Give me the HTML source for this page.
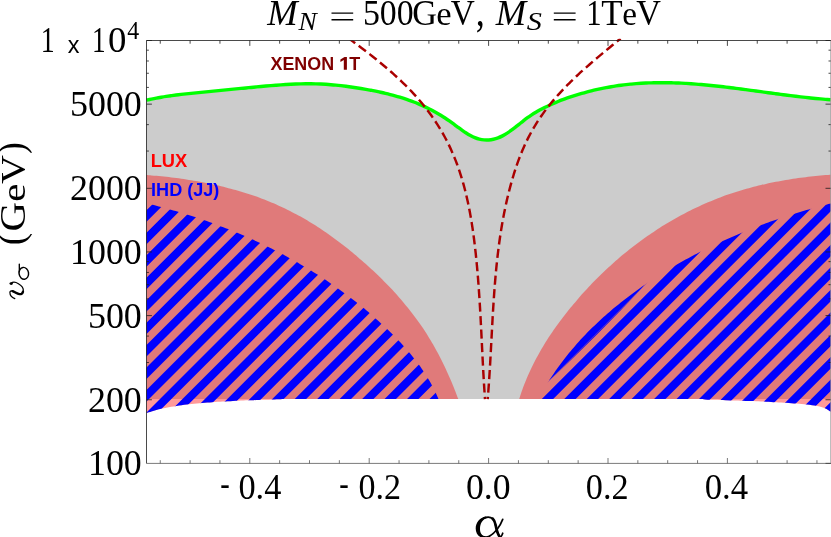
<!DOCTYPE html>
<html lang="en"><head><meta charset="utf-8"><title>M_N = 500GeV, M_S = 1TeV</title>
<style>
html,body{margin:0;padding:0;background:#fff;}
body{width:831px;height:537px;overflow:hidden;}
svg{display:block;will-change:transform;}
.se{font-family:"Liberation Serif",serif;fill:#000;}
.sa{font-family:"Liberation Sans",sans-serif;font-weight:bold;}
</style></head><body>
<svg width="831" height="537" viewBox="0 0 831 537">
<rect width="831" height="537" fill="#fff"/>
<defs>
<clipPath id="hc"><path d="M146.50,203.30 C147.32,203.50 149.77,204.09 151.40,204.50 C153.03,204.91 154.66,205.32 156.29,205.74 C157.91,206.16 159.54,206.58 161.16,207.01 C162.79,207.45 164.41,207.88 166.03,208.33 C167.65,208.77 169.26,209.23 170.88,209.68 C172.49,210.14 174.11,210.61 175.72,211.08 C177.33,211.55 178.94,212.03 180.54,212.51 C182.15,213.00 183.76,213.49 185.36,213.99 C186.96,214.48 188.56,214.99 190.16,215.50 C191.76,216.01 193.35,216.53 194.94,217.05 C196.54,217.58 198.13,218.11 199.71,218.65 C201.30,219.18 202.89,219.73 204.47,220.28 C206.05,220.83 207.63,221.39 209.21,221.95 C210.79,222.52 212.36,223.09 213.94,223.67 C215.51,224.25 217.08,224.83 218.65,225.42 C220.21,226.01 221.78,226.61 223.34,227.22 C224.90,227.82 226.46,228.44 228.02,229.06 C229.57,229.67 231.13,230.30 232.68,230.93 C234.23,231.57 235.77,232.21 237.32,232.85 C238.86,233.50 240.40,234.15 241.94,234.81 C243.48,235.47 245.01,236.14 246.55,236.82 C248.08,237.49 249.61,238.17 251.13,238.86 C252.66,239.55 254.18,240.24 255.70,240.95 C257.22,241.65 258.74,242.36 260.25,243.07 C261.76,243.79 263.27,244.51 264.78,245.24 C266.29,245.97 267.79,246.71 269.29,247.46 C270.79,248.20 272.28,248.95 273.78,249.71 C275.27,250.47 276.76,251.23 278.24,252.01 C279.73,252.78 281.21,253.56 282.69,254.35 C284.17,255.13 285.64,255.93 287.11,256.73 C288.58,257.53 290.05,258.34 291.52,259.15 C292.98,259.97 294.44,260.79 295.90,261.62 C297.35,262.45 298.80,263.29 300.25,264.14 C301.70,264.98 303.15,265.83 304.59,266.69 C306.03,267.55 307.46,268.42 308.90,269.29 C310.33,270.16 311.76,271.04 313.18,271.93 C314.61,272.82 316.03,273.72 317.44,274.62 C318.86,275.52 320.27,276.43 321.68,277.35 C323.09,278.27 324.49,279.19 325.89,280.12 C327.29,281.06 328.68,282.00 330.07,282.94 C331.46,283.89 332.84,284.84 334.22,285.81 C335.60,286.77 336.98,287.74 338.34,288.71 C339.71,289.69 341.08,290.67 342.43,291.66 C343.79,292.66 345.15,293.65 346.49,294.66 C347.84,295.67 349.18,296.68 350.52,297.70 C351.85,298.72 353.18,299.75 354.51,300.79 C355.83,301.82 357.15,302.87 358.46,303.92 C359.77,304.97 361.08,306.02 362.38,307.09 C363.68,308.16 364.97,309.23 366.26,310.31 C367.54,311.39 368.82,312.48 370.10,313.57 C371.37,314.67 372.64,315.77 373.90,316.88 C375.16,317.99 376.41,319.11 377.66,320.24 C378.90,321.36 380.14,322.50 381.37,323.64 C382.61,324.78 383.83,325.93 385.05,327.08 C386.26,328.24 387.47,329.40 388.68,330.57 C389.88,331.75 391.07,332.92 392.26,334.11 C393.44,335.30 394.62,336.49 395.79,337.69 C396.96,338.89 398.12,340.10 399.27,341.32 C400.43,342.54 401.57,343.77 402.70,345.01 C403.83,346.24 404.94,347.49 406.05,348.74 C407.16,350.00 408.25,351.26 409.33,352.54 C410.41,353.82 411.48,355.10 412.53,356.40 C413.58,357.69 414.62,359.00 415.64,360.32 C416.66,361.64 417.66,362.97 418.65,364.31 C419.64,365.66 420.61,367.01 421.56,368.38 C422.52,369.74 423.45,371.12 424.37,372.51 C425.28,373.91 426.18,375.31 427.05,376.73 C427.93,378.15 428.78,379.58 429.62,381.03 C430.45,382.47 431.26,383.94 432.05,385.41 C432.84,386.89 433.61,388.38 434.35,389.88 C435.09,391.39 435.81,392.91 436.50,394.44 C437.19,395.98 438.17,398.32 438.50,399.10 L284.40,399.10 L284.40,399.10 C283.55,399.13 280.99,399.23 279.28,399.29 C277.57,399.35 275.86,399.41 274.15,399.46 C272.44,399.52 270.73,399.58 269.01,399.63 C267.30,399.69 265.59,399.74 263.87,399.80 C262.15,399.85 260.44,399.91 258.72,399.97 C257.00,400.02 255.29,400.08 253.57,400.14 C251.85,400.20 250.13,400.26 248.41,400.32 C246.69,400.38 244.97,400.45 243.25,400.51 C241.53,400.58 239.81,400.65 238.09,400.72 C236.37,400.80 234.65,400.87 232.92,400.95 C231.20,401.04 229.48,401.12 227.76,401.21 C226.04,401.30 224.32,401.39 222.60,401.49 C220.88,401.59 219.16,401.70 217.45,401.81 C215.73,401.92 214.01,402.04 212.29,402.16 C210.58,402.29 208.86,402.42 207.15,402.56 C205.43,402.70 203.72,402.84 202.00,402.99 C200.29,403.15 198.58,403.31 196.87,403.48 C195.16,403.65 193.45,403.83 191.74,404.02 C190.03,404.21 188.33,404.40 186.63,404.61 C184.92,404.82 183.22,405.04 181.52,405.27 C179.82,405.50 178.12,405.75 176.43,406.01 C174.74,406.27 173.05,406.55 171.36,406.84 C169.68,407.14 167.99,407.45 166.32,407.79 C164.64,408.12 162.97,408.48 161.31,408.86 C159.64,409.24 157.98,409.64 156.33,410.07 C154.68,410.51 153.03,410.96 151.39,411.45 C149.75,411.94 147.32,412.74 146.50,413.00 Z"/><path d="M538.40,399.10 C538.80,398.35 539.99,396.10 540.81,394.62 C541.62,393.14 542.45,391.67 543.29,390.20 C544.13,388.74 544.99,387.29 545.86,385.85 C546.72,384.41 547.60,382.97 548.50,381.55 C549.39,380.13 550.29,378.72 551.21,377.31 C552.13,375.91 553.06,374.52 554.00,373.13 C554.94,371.75 555.89,370.38 556.86,369.01 C557.82,367.65 558.80,366.29 559.79,364.95 C560.78,363.60 561.78,362.27 562.79,360.94 C563.80,359.61 564.82,358.30 565.86,356.99 C566.89,355.68 567.93,354.38 568.99,353.09 C570.04,351.81 571.11,350.53 572.18,349.26 C573.26,347.98 574.34,346.72 575.44,345.47 C576.53,344.22 577.64,342.98 578.76,341.74 C579.87,340.51 581.00,339.28 582.13,338.06 C583.27,336.85 584.41,335.64 585.57,334.44 C586.72,333.24 587.89,332.05 589.06,330.87 C590.23,329.69 591.41,328.52 592.60,327.35 C593.79,326.19 594.99,325.03 596.20,323.88 C597.41,322.74 598.63,321.60 599.85,320.47 C601.07,319.34 602.31,318.22 603.55,317.10 C604.79,315.99 606.04,314.88 607.29,313.79 C608.55,312.69 609.82,311.60 611.09,310.52 C612.36,309.44 613.64,308.37 614.92,307.30 C616.21,306.24 617.50,305.18 618.80,304.13 C620.11,303.09 621.41,302.05 622.73,301.01 C624.04,299.98 625.36,298.96 626.69,297.94 C628.02,296.92 629.35,295.91 630.69,294.91 C632.03,293.91 633.38,292.92 634.73,291.93 C636.08,290.94 637.44,289.97 638.80,289.00 C640.17,288.02 641.53,287.06 642.91,286.10 C644.28,285.15 645.66,284.20 647.05,283.26 C648.43,282.32 649.82,281.38 651.22,280.46 C652.61,279.53 654.02,278.61 655.42,277.70 C656.83,276.79 658.24,275.88 659.65,274.99 C661.07,274.09 662.49,273.20 663.91,272.32 C665.34,271.43 666.77,270.56 668.20,269.69 C669.64,268.82 671.07,267.96 672.52,267.11 C673.96,266.25 675.41,265.41 676.86,264.57 C678.31,263.73 679.77,262.90 681.23,262.07 C682.69,261.25 684.16,260.43 685.63,259.62 C687.09,258.81 688.57,258.00 690.05,257.20 C691.52,256.41 693.00,255.62 694.49,254.84 C695.97,254.05 697.46,253.28 698.96,252.51 C700.45,251.74 701.95,250.98 703.45,250.22 C704.95,249.47 706.45,248.72 707.96,247.98 C709.46,247.24 710.98,246.50 712.49,245.78 C714.00,245.05 715.52,244.33 717.04,243.61 C718.56,242.90 720.09,242.19 721.62,241.49 C723.14,240.79 724.67,240.10 726.21,239.42 C727.74,238.73 729.28,238.05 730.82,237.38 C732.36,236.70 733.90,236.04 735.44,235.38 C736.99,234.72 738.54,234.07 740.09,233.42 C741.64,232.77 743.19,232.14 744.75,231.50 C746.30,230.87 747.86,230.24 749.42,229.63 C750.98,229.01 752.54,228.39 754.11,227.79 C755.67,227.18 757.24,226.58 758.81,225.99 C760.38,225.39 761.95,224.81 763.53,224.23 C765.10,223.65 766.68,223.07 768.26,222.51 C769.83,221.94 771.41,221.38 773.00,220.83 C774.58,220.27 776.16,219.72 777.75,219.18 C779.33,218.64 780.92,218.11 782.51,217.58 C784.09,217.05 785.68,216.53 787.28,216.01 C788.87,215.50 790.46,214.99 792.05,214.48 C793.65,213.98 795.24,213.48 796.84,212.99 C798.44,212.50 800.03,212.02 801.63,211.54 C803.23,211.06 804.83,210.59 806.43,210.12 C808.03,209.66 809.63,209.20 811.24,208.75 C812.84,208.29 814.44,207.84 816.05,207.40 C817.65,206.96 819.26,206.53 820.86,206.10 C822.47,205.67 824.07,205.25 825.68,204.83 C827.29,204.41 829.70,203.81 830.50,203.60 L830.6,411.6 L830.60,411.60 C829.93,411.15 828.03,409.65 826.60,408.92 C825.17,408.18 823.60,407.68 822.02,407.19 C820.44,406.71 818.80,406.34 817.14,406.01 C815.48,405.67 813.77,405.43 812.07,405.19 C810.36,404.96 808.63,404.78 806.91,404.59 C805.19,404.41 803.47,404.24 801.76,404.08 C800.04,403.91 798.33,403.76 796.62,403.61 C794.91,403.47 793.20,403.33 791.50,403.20 C789.79,403.07 788.09,402.95 786.39,402.83 C784.68,402.71 782.99,402.60 781.29,402.50 C779.59,402.40 777.89,402.30 776.20,402.20 C774.50,402.11 772.81,402.02 771.12,401.94 C769.43,401.86 767.73,401.78 766.04,401.71 C764.35,401.63 762.67,401.56 760.98,401.49 C759.29,401.42 757.60,401.36 755.91,401.30 C754.22,401.23 752.54,401.17 750.85,401.11 C749.16,401.06 747.48,401.00 745.79,400.94 C744.10,400.89 742.41,400.83 740.72,400.78 C739.04,400.72 737.35,400.66 735.66,400.61 C733.97,400.55 732.28,400.50 730.59,400.44 C728.90,400.38 727.21,400.32 725.52,400.26 C723.82,400.20 722.13,400.14 720.43,400.07 C718.74,400.00 717.04,399.94 715.34,399.86 C713.64,399.79 711.94,399.72 710.24,399.64 C708.54,399.56 706.83,399.47 705.13,399.38 C703.42,399.29 700.85,399.15 700.00,399.10 Z"/></clipPath>
<clipPath id="fc"><path d="M146.50,40.50 H560 V38.7 H831.90 V463.40 H146.50 Z"/></clipPath>
</defs>
<path d="M146.50,100.20 C147.32,100.02 149.77,99.46 151.41,99.11 C153.05,98.77 154.69,98.44 156.34,98.13 C157.98,97.81 159.62,97.52 161.27,97.23 C162.91,96.95 164.56,96.68 166.21,96.43 C167.86,96.17 169.51,95.93 171.16,95.69 C172.81,95.46 174.46,95.24 176.12,95.02 C177.77,94.81 179.43,94.61 181.08,94.41 C182.74,94.21 184.40,94.03 186.06,93.85 C187.71,93.66 189.37,93.49 191.03,93.32 C192.69,93.15 194.35,92.98 196.01,92.82 C197.68,92.65 199.34,92.49 201.00,92.34 C202.66,92.18 204.33,92.02 205.99,91.86 C207.65,91.71 209.32,91.55 210.98,91.39 C212.65,91.23 214.31,91.08 215.98,90.91 C217.64,90.75 219.31,90.59 220.97,90.43 C222.64,90.26 224.30,90.10 225.97,89.93 C227.63,89.76 229.30,89.60 230.96,89.43 C232.63,89.26 234.30,89.10 235.96,88.93 C237.63,88.76 239.29,88.60 240.96,88.43 C242.62,88.27 244.29,88.10 245.95,87.94 C247.62,87.77 249.28,87.61 250.95,87.45 C252.61,87.29 254.27,87.13 255.94,86.97 C257.60,86.81 259.26,86.66 260.93,86.50 C262.59,86.35 264.25,86.20 265.91,86.05 C267.58,85.90 269.24,85.76 270.90,85.62 C272.56,85.48 274.22,85.35 275.88,85.22 C277.54,85.09 279.20,84.97 280.87,84.86 C282.53,84.74 284.19,84.63 285.85,84.53 C287.51,84.43 289.17,84.34 290.84,84.26 C292.50,84.18 294.16,84.11 295.82,84.05 C297.49,83.98 299.15,83.93 300.81,83.89 C302.48,83.85 304.14,83.82 305.81,83.81 C307.47,83.80 309.14,83.79 310.81,83.81 C312.48,83.82 314.14,83.84 315.81,83.88 C317.48,83.93 319.15,83.98 320.82,84.05 C322.50,84.13 324.17,84.22 325.84,84.32 C327.52,84.43 329.19,84.55 330.87,84.69 C332.54,84.82 334.22,84.97 335.89,85.14 C337.57,85.30 339.24,85.48 340.92,85.67 C342.59,85.86 344.26,86.07 345.93,86.28 C347.60,86.50 349.27,86.73 350.94,86.96 C352.61,87.20 354.27,87.45 355.93,87.70 C357.59,87.96 359.25,88.22 360.91,88.49 C362.56,88.77 364.21,89.05 365.86,89.34 C367.51,89.63 369.15,89.93 370.79,90.24 C372.43,90.55 374.07,90.87 375.70,91.20 C377.33,91.54 378.95,91.88 380.57,92.24 C382.19,92.59 383.81,92.96 385.42,93.35 C387.03,93.73 388.64,94.13 390.24,94.55 C391.84,94.96 393.44,95.39 395.03,95.83 C396.62,96.28 398.20,96.74 399.78,97.22 C401.36,97.70 402.93,98.19 404.50,98.71 C406.07,99.22 407.63,99.76 409.18,100.31 C410.74,100.86 412.28,101.43 413.82,102.03 C415.36,102.62 416.90,103.24 418.42,103.87 C419.95,104.51 421.47,105.17 422.98,105.85 C424.49,106.53 426.00,107.24 427.50,107.97 C428.99,108.70 430.48,109.45 431.96,110.23 C433.44,111.01 434.92,111.82 436.38,112.65 C437.85,113.48 439.31,114.34 440.75,115.22 C442.20,116.11 443.64,117.02 445.07,117.97 C446.50,118.91 447.92,119.88 449.34,120.88 C450.75,121.88 452.15,122.92 453.55,123.96 C454.95,124.99 456.34,126.06 457.74,127.09 C459.14,128.13 460.53,129.17 461.93,130.16 C463.33,131.14 464.74,132.12 466.16,133.02 C467.57,133.92 469.00,134.79 470.44,135.56 C471.89,136.33 473.34,137.04 474.82,137.63 C476.30,138.23 477.80,138.75 479.32,139.13 C480.85,139.50 482.41,139.77 483.97,139.91 C485.54,140.04 487.14,140.05 488.71,139.94 C490.29,139.83 491.89,139.60 493.45,139.26 C495.01,138.91 496.55,138.44 498.06,137.88 C499.58,137.31 501.05,136.62 502.51,135.87 C503.97,135.12 505.41,134.26 506.83,133.37 C508.24,132.47 509.64,131.49 511.03,130.48 C512.42,129.48 513.79,128.42 515.16,127.35 C516.54,126.29 517.90,125.18 519.26,124.10 C520.62,123.02 521.98,121.91 523.35,120.85 C524.72,119.79 526.09,118.73 527.47,117.74 C528.85,116.74 530.24,115.78 531.64,114.86 C533.05,113.94 534.46,113.08 535.89,112.24 C537.31,111.40 538.75,110.60 540.20,109.82 C541.65,109.04 543.11,108.30 544.58,107.57 C546.05,106.85 547.53,106.14 549.02,105.45 C550.51,104.76 552.01,104.09 553.52,103.43 C555.04,102.78 556.56,102.14 558.09,101.51 C559.62,100.89 561.16,100.28 562.71,99.69 C564.26,99.10 565.82,98.53 567.38,97.97 C568.95,97.41 570.52,96.87 572.10,96.34 C573.68,95.81 575.27,95.30 576.87,94.81 C578.46,94.31 580.06,93.83 581.67,93.37 C583.28,92.91 584.90,92.46 586.52,92.03 C588.14,91.60 589.76,91.18 591.39,90.78 C593.02,90.38 594.66,89.99 596.30,89.62 C597.94,89.25 599.58,88.90 601.23,88.56 C602.88,88.22 604.53,87.90 606.18,87.59 C607.84,87.28 609.50,86.99 611.16,86.71 C612.82,86.43 614.48,86.17 616.14,85.92 C617.81,85.67 619.47,85.44 621.14,85.22 C622.81,85.00 624.48,84.79 626.15,84.60 C627.81,84.42 629.48,84.24 631.15,84.08 C632.82,83.92 634.49,83.78 636.16,83.64 C637.83,83.51 639.50,83.40 641.17,83.29 C642.83,83.19 644.50,83.10 646.17,83.02 C647.84,82.95 649.50,82.89 651.17,82.83 C652.84,82.78 654.50,82.75 656.17,82.72 C657.83,82.69 659.50,82.68 661.16,82.68 C662.83,82.67 664.49,82.68 666.16,82.70 C667.82,82.72 669.49,82.75 671.15,82.79 C672.81,82.83 674.48,82.89 676.14,82.95 C677.80,83.01 679.47,83.08 681.13,83.16 C682.79,83.24 684.45,83.33 686.11,83.42 C687.78,83.52 689.44,83.63 691.10,83.74 C692.76,83.85 694.42,83.98 696.08,84.11 C697.75,84.23 699.41,84.37 701.07,84.52 C702.73,84.66 704.39,84.81 706.05,84.97 C707.71,85.12 709.37,85.29 711.03,85.46 C712.69,85.62 714.35,85.80 716.01,85.98 C717.67,86.16 719.33,86.34 720.99,86.53 C722.65,86.72 724.30,86.92 725.96,87.12 C727.62,87.31 729.28,87.52 730.94,87.72 C732.60,87.93 734.26,88.14 735.92,88.35 C737.58,88.56 739.23,88.78 740.89,89.00 C742.55,89.21 744.21,89.43 745.87,89.65 C747.53,89.88 749.19,90.10 750.84,90.32 C752.50,90.55 754.16,90.77 755.82,91.00 C757.48,91.23 759.14,91.45 760.79,91.68 C762.45,91.91 764.11,92.14 765.77,92.36 C767.43,92.59 769.09,92.81 770.75,93.04 C772.40,93.26 774.06,93.49 775.72,93.71 C777.38,93.93 779.04,94.15 780.70,94.37 C782.36,94.59 784.01,94.81 785.67,95.02 C787.33,95.23 788.99,95.45 790.65,95.65 C792.31,95.86 793.97,96.06 795.63,96.26 C797.29,96.46 798.95,96.66 800.61,96.85 C802.27,97.04 803.93,97.23 805.59,97.41 C807.25,97.60 808.91,97.77 810.57,97.95 C812.23,98.12 813.89,98.28 815.55,98.44 C817.21,98.60 818.87,98.76 820.53,98.90 C822.19,99.05 823.85,99.19 825.51,99.32 C827.18,99.46 829.67,99.64 830.50,99.70 L830.5,399.10 L146.5,399.10 Z" fill="#cccccc"/>
<path d="M146.50,175.00 C147.33,175.07 149.81,175.25 151.47,175.39 C153.12,175.53 154.78,175.67 156.44,175.83 C158.10,175.98 159.76,176.14 161.42,176.31 C163.08,176.48 164.74,176.65 166.40,176.84 C168.07,177.02 169.73,177.22 171.39,177.42 C173.06,177.62 174.72,177.83 176.38,178.05 C178.05,178.27 179.71,178.49 181.37,178.73 C183.04,178.97 184.70,179.21 186.36,179.47 C188.02,179.72 189.68,179.98 191.34,180.26 C193.00,180.53 194.66,180.81 196.32,181.10 C197.98,181.39 199.64,181.70 201.29,182.01 C202.94,182.32 204.60,182.64 206.25,182.97 C207.90,183.30 209.55,183.64 211.20,183.99 C212.85,184.34 214.49,184.70 216.13,185.07 C217.78,185.45 219.42,185.83 221.05,186.22 C222.69,186.61 224.32,187.02 225.96,187.43 C227.59,187.85 229.22,188.27 230.84,188.71 C232.46,189.15 234.09,189.59 235.70,190.05 C237.32,190.51 238.93,190.98 240.54,191.46 C242.15,191.95 243.76,192.44 245.36,192.94 C246.96,193.45 248.56,193.97 250.15,194.50 C251.74,195.03 253.33,195.57 254.91,196.12 C256.50,196.68 258.07,197.24 259.65,197.82 C261.22,198.40 262.79,198.99 264.35,199.59 C265.91,200.20 267.47,200.81 269.02,201.44 C270.57,202.07 272.11,202.72 273.65,203.37 C275.19,204.03 276.72,204.70 278.24,205.38 C279.77,206.06 281.29,206.76 282.80,207.46 C284.31,208.17 285.82,208.90 287.32,209.63 C288.81,210.37 290.30,211.12 291.79,211.88 C293.27,212.65 294.75,213.42 296.22,214.21 C297.69,215.00 299.16,215.81 300.61,216.62 C302.07,217.44 303.52,218.26 304.96,219.10 C306.41,219.94 307.85,220.80 309.28,221.66 C310.71,222.52 312.13,223.40 313.55,224.28 C314.96,225.17 316.37,226.07 317.78,226.98 C319.18,227.89 320.58,228.81 321.97,229.74 C323.36,230.67 324.74,231.61 326.12,232.56 C327.50,233.51 328.87,234.47 330.24,235.45 C331.60,236.42 332.96,237.40 334.31,238.39 C335.67,239.38 337.01,240.38 338.35,241.39 C339.69,242.40 341.03,243.42 342.35,244.45 C343.68,245.48 345.00,246.51 346.32,247.56 C347.63,248.60 348.94,249.65 350.24,250.72 C351.55,251.78 352.84,252.85 354.13,253.92 C355.42,255.00 356.71,256.08 357.99,257.18 C359.27,258.27 360.54,259.37 361.81,260.47 C363.07,261.58 364.33,262.69 365.59,263.81 C366.84,264.93 368.09,266.06 369.33,267.19 C370.58,268.33 371.81,269.47 373.04,270.61 C374.27,271.76 375.49,272.92 376.71,274.08 C377.92,275.24 379.13,276.41 380.33,277.58 C381.53,278.76 382.72,279.94 383.90,281.14 C385.08,282.33 386.26,283.52 387.43,284.73 C388.59,285.94 389.75,287.15 390.90,288.37 C392.05,289.59 393.19,290.82 394.33,292.06 C395.46,293.29 396.58,294.54 397.69,295.79 C398.81,297.04 399.91,298.30 401.00,299.56 C402.10,300.83 403.18,302.11 404.25,303.39 C405.33,304.67 406.39,305.96 407.44,307.26 C408.49,308.56 409.53,309.87 410.56,311.18 C411.59,312.50 412.61,313.82 413.62,315.15 C414.63,316.48 415.62,317.82 416.61,319.17 C417.59,320.52 418.57,321.88 419.53,323.24 C420.49,324.61 421.43,325.98 422.37,327.36 C423.30,328.74 424.23,330.13 425.14,331.53 C426.05,332.93 426.94,334.34 427.83,335.76 C428.71,337.17 429.58,338.60 430.44,340.03 C431.30,341.46 432.14,342.90 432.98,344.35 C433.81,345.80 434.63,347.25 435.44,348.71 C436.25,350.18 437.05,351.65 437.84,353.12 C438.63,354.60 439.40,356.08 440.16,357.57 C440.93,359.06 441.68,360.56 442.42,362.06 C443.16,363.56 443.90,365.07 444.62,366.59 C445.34,368.10 446.05,369.62 446.75,371.15 C447.45,372.67 448.13,374.20 448.81,375.74 C449.49,377.27 450.16,378.82 450.82,380.36 C451.48,381.91 452.13,383.46 452.77,385.01 C453.41,386.56 454.05,388.12 454.67,389.68 C455.29,391.25 455.90,392.81 456.51,394.38 C457.12,395.95 458.00,398.31 458.30,399.10 L284.40,399.10 L284.40,399.10 C283.55,399.13 280.99,399.23 279.28,399.29 C277.57,399.35 275.86,399.41 274.15,399.46 C272.44,399.52 270.73,399.58 269.01,399.63 C267.30,399.69 265.59,399.74 263.87,399.80 C262.15,399.85 260.44,399.91 258.72,399.97 C257.00,400.02 255.29,400.08 253.57,400.14 C251.85,400.20 250.13,400.26 248.41,400.32 C246.69,400.38 244.97,400.45 243.25,400.51 C241.53,400.58 239.81,400.65 238.09,400.72 C236.37,400.80 234.65,400.87 232.92,400.95 C231.20,401.04 229.48,401.12 227.76,401.21 C226.04,401.30 224.32,401.39 222.60,401.49 C220.88,401.59 219.16,401.70 217.45,401.81 C215.73,401.92 214.01,402.04 212.29,402.16 C210.58,402.29 208.86,402.42 207.15,402.56 C205.43,402.70 203.72,402.84 202.00,402.99 C200.29,403.15 198.58,403.31 196.87,403.48 C195.16,403.65 193.45,403.83 191.74,404.02 C190.03,404.21 188.33,404.40 186.63,404.61 C184.92,404.82 183.22,405.04 181.52,405.27 C179.82,405.50 178.12,405.75 176.43,406.01 C174.74,406.27 173.05,406.55 171.36,406.84 C169.68,407.14 167.99,407.45 166.32,407.79 C164.64,408.12 162.97,408.48 161.31,408.86 C159.64,409.24 157.98,409.64 156.33,410.07 C154.68,410.51 153.03,410.96 151.39,411.45 C149.75,411.94 147.32,412.74 146.50,413.00 Z" fill="#ff0000" fill-opacity="0.4"/>
<path d="M519.20,399.10 C519.46,398.30 520.21,395.88 520.74,394.28 C521.27,392.69 521.82,391.10 522.39,389.52 C522.95,387.94 523.54,386.37 524.14,384.81 C524.74,383.24 525.36,381.69 526.00,380.14 C526.63,378.60 527.28,377.06 527.95,375.53 C528.62,374.00 529.31,372.48 530.01,370.96 C530.71,369.45 531.42,367.94 532.15,366.44 C532.89,364.95 533.63,363.45 534.39,361.97 C535.15,360.49 535.93,359.02 536.72,357.55 C537.51,356.08 538.31,354.62 539.13,353.17 C539.95,351.72 540.78,350.27 541.63,348.84 C542.47,347.40 543.33,345.97 544.20,344.55 C545.07,343.13 545.95,341.71 546.85,340.30 C547.75,338.90 548.65,337.50 549.57,336.10 C550.49,334.71 551.42,333.32 552.37,331.95 C553.31,330.57 554.26,329.20 555.23,327.83 C556.19,326.47 557.17,325.11 558.15,323.76 C559.14,322.40 560.13,321.06 561.14,319.72 C562.15,318.39 563.16,317.05 564.19,315.73 C565.21,314.41 566.24,313.09 567.29,311.78 C568.33,310.47 569.38,309.16 570.44,307.86 C571.50,306.56 572.57,305.27 573.64,303.99 C574.72,302.70 575.80,301.42 576.90,300.15 C577.99,298.88 579.09,297.61 580.20,296.35 C581.30,295.10 582.42,293.84 583.55,292.60 C584.67,291.35 585.80,290.12 586.94,288.89 C588.08,287.66 589.23,286.43 590.39,285.22 C591.54,284.00 592.70,282.79 593.88,281.59 C595.05,280.39 596.23,279.20 597.41,278.01 C598.60,276.83 599.79,275.65 600.99,274.48 C602.20,273.31 603.40,272.15 604.62,270.99 C605.84,269.84 607.06,268.69 608.29,267.56 C609.52,266.42 610.76,265.29 612.01,264.17 C613.26,263.05 614.51,261.93 615.77,260.83 C617.03,259.73 618.30,258.63 619.57,257.54 C620.85,256.46 622.13,255.38 623.42,254.31 C624.71,253.24 626.01,252.18 627.31,251.13 C628.61,250.08 629.92,249.04 631.24,248.00 C632.56,246.97 633.88,245.95 635.21,244.93 C636.54,243.92 637.88,242.91 639.23,241.92 C640.57,240.92 641.92,239.94 643.28,238.96 C644.64,237.99 646.00,237.02 647.38,236.06 C648.75,235.11 650.13,234.16 651.51,233.22 C652.89,232.29 654.29,231.36 655.68,230.45 C657.08,229.53 658.48,228.62 659.89,227.73 C661.30,226.83 662.72,225.95 664.14,225.07 C665.57,224.20 666.99,223.33 668.43,222.48 C669.86,221.63 671.31,220.78 672.75,219.95 C674.20,219.12 675.65,218.30 677.11,217.49 C678.57,216.67 680.03,215.87 681.51,215.09 C682.98,214.30 684.45,213.52 685.93,212.75 C687.42,211.99 688.90,211.23 690.40,210.49 C691.89,209.74 693.39,209.01 694.89,208.29 C696.40,207.57 697.91,206.86 699.42,206.16 C700.94,205.46 702.46,204.77 703.99,204.10 C705.51,203.42 707.04,202.76 708.58,202.11 C710.12,201.45 711.66,200.81 713.20,200.19 C714.75,199.56 716.30,198.94 717.86,198.34 C719.42,197.74 720.98,197.15 722.55,196.57 C724.11,195.99 725.68,195.42 727.26,194.87 C728.84,194.31 730.42,193.77 732.00,193.24 C733.59,192.71 735.18,192.19 736.78,191.69 C738.37,191.19 739.97,190.69 741.58,190.21 C743.18,189.74 744.79,189.27 746.40,188.81 C748.01,188.36 749.63,187.92 751.25,187.49 C752.87,187.05 754.49,186.64 756.12,186.23 C757.74,185.82 759.38,185.42 761.01,185.04 C762.64,184.65 764.28,184.28 765.92,183.92 C767.55,183.55 769.20,183.20 770.84,182.86 C772.48,182.52 774.13,182.19 775.78,181.87 C777.43,181.55 779.08,181.24 780.73,180.94 C782.38,180.64 784.03,180.35 785.69,180.07 C787.34,179.79 789.00,179.52 790.66,179.26 C792.32,179.00 793.98,178.75 795.63,178.51 C797.29,178.27 798.95,178.04 800.62,177.81 C802.28,177.59 803.94,177.37 805.60,177.17 C807.26,176.96 808.92,176.77 810.59,176.58 C812.25,176.39 813.91,176.21 815.57,176.04 C817.23,175.86 818.89,175.70 820.55,175.54 C822.21,175.39 823.87,175.24 825.53,175.10 C827.19,174.96 829.67,174.77 830.50,174.70 L830.6,411.6 L830.60,411.60 C829.93,411.15 828.03,409.65 826.60,408.92 C825.17,408.18 823.60,407.68 822.02,407.19 C820.44,406.71 818.80,406.34 817.14,406.01 C815.48,405.67 813.77,405.43 812.07,405.19 C810.36,404.96 808.63,404.78 806.91,404.59 C805.19,404.41 803.47,404.24 801.76,404.08 C800.04,403.91 798.33,403.76 796.62,403.61 C794.91,403.47 793.20,403.33 791.50,403.20 C789.79,403.07 788.09,402.95 786.39,402.83 C784.68,402.71 782.99,402.60 781.29,402.50 C779.59,402.40 777.89,402.30 776.20,402.20 C774.50,402.11 772.81,402.02 771.12,401.94 C769.43,401.86 767.73,401.78 766.04,401.71 C764.35,401.63 762.67,401.56 760.98,401.49 C759.29,401.42 757.60,401.36 755.91,401.30 C754.22,401.23 752.54,401.17 750.85,401.11 C749.16,401.06 747.48,401.00 745.79,400.94 C744.10,400.89 742.41,400.83 740.72,400.78 C739.04,400.72 737.35,400.66 735.66,400.61 C733.97,400.55 732.28,400.50 730.59,400.44 C728.90,400.38 727.21,400.32 725.52,400.26 C723.82,400.20 722.13,400.14 720.43,400.07 C718.74,400.00 717.04,399.94 715.34,399.86 C713.64,399.79 711.94,399.72 710.24,399.64 C708.54,399.56 706.83,399.47 705.13,399.38 C703.42,399.29 700.85,399.15 700.00,399.10 L700,399.10 Z" fill="#ff0000" fill-opacity="0.4"/>
<path d="M161.85,195.00 L173.25,195.00 L-51.75,420.00 L-63.15,420.00 Z M184.31,195.00 L195.71,195.00 L-29.29,420.00 L-40.69,420.00 Z M206.77,195.00 L218.17,195.00 L-6.83,420.00 L-18.23,420.00 Z M229.23,195.00 L240.63,195.00 L15.63,420.00 L4.23,420.00 Z M251.69,195.00 L263.09,195.00 L38.09,420.00 L26.69,420.00 Z M274.15,195.00 L285.55,195.00 L60.55,420.00 L49.15,420.00 Z M296.61,195.00 L308.01,195.00 L83.01,420.00 L71.61,420.00 Z M319.07,195.00 L330.47,195.00 L105.47,420.00 L94.07,420.00 Z M341.53,195.00 L352.93,195.00 L127.93,420.00 L116.53,420.00 Z M363.99,195.00 L375.39,195.00 L150.39,420.00 L138.99,420.00 Z M386.45,195.00 L397.85,195.00 L172.85,420.00 L161.45,420.00 Z M408.91,195.00 L420.31,195.00 L195.31,420.00 L183.91,420.00 Z M431.37,195.00 L442.77,195.00 L217.77,420.00 L206.37,420.00 Z M453.83,195.00 L465.23,195.00 L240.23,420.00 L228.83,420.00 Z M476.29,195.00 L487.69,195.00 L262.69,420.00 L251.29,420.00 Z M498.75,195.00 L510.15,195.00 L285.15,420.00 L273.75,420.00 Z M521.21,195.00 L532.61,195.00 L307.61,420.00 L296.21,420.00 Z M543.67,195.00 L555.07,195.00 L330.07,420.00 L318.67,420.00 Z M566.13,195.00 L577.53,195.00 L352.53,420.00 L341.13,420.00 Z M588.59,195.00 L599.99,195.00 L374.99,420.00 L363.59,420.00 Z M611.05,195.00 L622.45,195.00 L397.45,420.00 L386.05,420.00 Z M633.51,195.00 L644.91,195.00 L419.91,420.00 L408.51,420.00 Z M655.97,195.00 L667.37,195.00 L442.37,420.00 L430.97,420.00 Z M678.43,195.00 L689.83,195.00 L464.83,420.00 L453.43,420.00 Z M700.89,195.00 L712.29,195.00 L487.29,420.00 L475.89,420.00 Z M723.35,195.00 L734.75,195.00 L509.75,420.00 L498.35,420.00 Z M745.81,195.00 L757.21,195.00 L532.21,420.00 L520.81,420.00 Z M768.27,195.00 L779.67,195.00 L554.67,420.00 L543.27,420.00 Z M790.73,195.00 L802.13,195.00 L577.13,420.00 L565.73,420.00 Z M813.19,195.00 L824.59,195.00 L599.59,420.00 L588.19,420.00 Z M835.65,195.00 L847.05,195.00 L622.05,420.00 L610.65,420.00 Z M858.11,195.00 L869.51,195.00 L644.51,420.00 L633.11,420.00 Z M880.57,195.00 L891.97,195.00 L666.97,420.00 L655.57,420.00 Z M903.03,195.00 L914.43,195.00 L689.43,420.00 L678.03,420.00 Z M925.49,195.00 L936.89,195.00 L711.89,420.00 L700.49,420.00 Z M947.95,195.00 L959.35,195.00 L734.35,420.00 L722.95,420.00 Z M970.41,195.00 L981.81,195.00 L756.81,420.00 L745.41,420.00 Z M992.87,195.00 L1004.27,195.00 L779.27,420.00 L767.87,420.00 Z M1015.33,195.00 L1026.73,195.00 L801.73,420.00 L790.33,420.00 Z M1037.79,195.00 L1049.19,195.00 L824.19,420.00 L812.79,420.00 Z M1060.25,195.00 L1071.65,195.00 L846.65,420.00 L835.25,420.00 Z" fill="#0000ff" clip-path="url(#hc)"/>
<path d="M549.0,380.9 Q598.7,334.1 643.9,286.0 Z" fill="#0000ff" clip-path="url(#hc)"/>
<path d="M146.50,100.20 C147.32,100.02 149.77,99.46 151.41,99.11 C153.05,98.77 154.69,98.44 156.34,98.13 C157.98,97.81 159.62,97.52 161.27,97.23 C162.91,96.95 164.56,96.68 166.21,96.43 C167.86,96.17 169.51,95.93 171.16,95.69 C172.81,95.46 174.46,95.24 176.12,95.02 C177.77,94.81 179.43,94.61 181.08,94.41 C182.74,94.21 184.40,94.03 186.06,93.85 C187.71,93.66 189.37,93.49 191.03,93.32 C192.69,93.15 194.35,92.98 196.01,92.82 C197.68,92.65 199.34,92.49 201.00,92.34 C202.66,92.18 204.33,92.02 205.99,91.86 C207.65,91.71 209.32,91.55 210.98,91.39 C212.65,91.23 214.31,91.08 215.98,90.91 C217.64,90.75 219.31,90.59 220.97,90.43 C222.64,90.26 224.30,90.10 225.97,89.93 C227.63,89.76 229.30,89.60 230.96,89.43 C232.63,89.26 234.30,89.10 235.96,88.93 C237.63,88.76 239.29,88.60 240.96,88.43 C242.62,88.27 244.29,88.10 245.95,87.94 C247.62,87.77 249.28,87.61 250.95,87.45 C252.61,87.29 254.27,87.13 255.94,86.97 C257.60,86.81 259.26,86.66 260.93,86.50 C262.59,86.35 264.25,86.20 265.91,86.05 C267.58,85.90 269.24,85.76 270.90,85.62 C272.56,85.48 274.22,85.35 275.88,85.22 C277.54,85.09 279.20,84.97 280.87,84.86 C282.53,84.74 284.19,84.63 285.85,84.53 C287.51,84.43 289.17,84.34 290.84,84.26 C292.50,84.18 294.16,84.11 295.82,84.05 C297.49,83.98 299.15,83.93 300.81,83.89 C302.48,83.85 304.14,83.82 305.81,83.81 C307.47,83.80 309.14,83.79 310.81,83.81 C312.48,83.82 314.14,83.84 315.81,83.88 C317.48,83.93 319.15,83.98 320.82,84.05 C322.50,84.13 324.17,84.22 325.84,84.32 C327.52,84.43 329.19,84.55 330.87,84.69 C332.54,84.82 334.22,84.97 335.89,85.14 C337.57,85.30 339.24,85.48 340.92,85.67 C342.59,85.86 344.26,86.07 345.93,86.28 C347.60,86.50 349.27,86.73 350.94,86.96 C352.61,87.20 354.27,87.45 355.93,87.70 C357.59,87.96 359.25,88.22 360.91,88.49 C362.56,88.77 364.21,89.05 365.86,89.34 C367.51,89.63 369.15,89.93 370.79,90.24 C372.43,90.55 374.07,90.87 375.70,91.20 C377.33,91.54 378.95,91.88 380.57,92.24 C382.19,92.59 383.81,92.96 385.42,93.35 C387.03,93.73 388.64,94.13 390.24,94.55 C391.84,94.96 393.44,95.39 395.03,95.83 C396.62,96.28 398.20,96.74 399.78,97.22 C401.36,97.70 402.93,98.19 404.50,98.71 C406.07,99.22 407.63,99.76 409.18,100.31 C410.74,100.86 412.28,101.43 413.82,102.03 C415.36,102.62 416.90,103.24 418.42,103.87 C419.95,104.51 421.47,105.17 422.98,105.85 C424.49,106.53 426.00,107.24 427.50,107.97 C428.99,108.70 430.48,109.45 431.96,110.23 C433.44,111.01 434.92,111.82 436.38,112.65 C437.85,113.48 439.31,114.34 440.75,115.22 C442.20,116.11 443.64,117.02 445.07,117.97 C446.50,118.91 447.92,119.88 449.34,120.88 C450.75,121.88 452.15,122.92 453.55,123.96 C454.95,124.99 456.34,126.06 457.74,127.09 C459.14,128.13 460.53,129.17 461.93,130.16 C463.33,131.14 464.74,132.12 466.16,133.02 C467.57,133.92 469.00,134.79 470.44,135.56 C471.89,136.33 473.34,137.04 474.82,137.63 C476.30,138.23 477.80,138.75 479.32,139.13 C480.85,139.50 482.41,139.77 483.97,139.91 C485.54,140.04 487.14,140.05 488.71,139.94 C490.29,139.83 491.89,139.60 493.45,139.26 C495.01,138.91 496.55,138.44 498.06,137.88 C499.58,137.31 501.05,136.62 502.51,135.87 C503.97,135.12 505.41,134.26 506.83,133.37 C508.24,132.47 509.64,131.49 511.03,130.48 C512.42,129.48 513.79,128.42 515.16,127.35 C516.54,126.29 517.90,125.18 519.26,124.10 C520.62,123.02 521.98,121.91 523.35,120.85 C524.72,119.79 526.09,118.73 527.47,117.74 C528.85,116.74 530.24,115.78 531.64,114.86 C533.05,113.94 534.46,113.08 535.89,112.24 C537.31,111.40 538.75,110.60 540.20,109.82 C541.65,109.04 543.11,108.30 544.58,107.57 C546.05,106.85 547.53,106.14 549.02,105.45 C550.51,104.76 552.01,104.09 553.52,103.43 C555.04,102.78 556.56,102.14 558.09,101.51 C559.62,100.89 561.16,100.28 562.71,99.69 C564.26,99.10 565.82,98.53 567.38,97.97 C568.95,97.41 570.52,96.87 572.10,96.34 C573.68,95.81 575.27,95.30 576.87,94.81 C578.46,94.31 580.06,93.83 581.67,93.37 C583.28,92.91 584.90,92.46 586.52,92.03 C588.14,91.60 589.76,91.18 591.39,90.78 C593.02,90.38 594.66,89.99 596.30,89.62 C597.94,89.25 599.58,88.90 601.23,88.56 C602.88,88.22 604.53,87.90 606.18,87.59 C607.84,87.28 609.50,86.99 611.16,86.71 C612.82,86.43 614.48,86.17 616.14,85.92 C617.81,85.67 619.47,85.44 621.14,85.22 C622.81,85.00 624.48,84.79 626.15,84.60 C627.81,84.42 629.48,84.24 631.15,84.08 C632.82,83.92 634.49,83.78 636.16,83.64 C637.83,83.51 639.50,83.40 641.17,83.29 C642.83,83.19 644.50,83.10 646.17,83.02 C647.84,82.95 649.50,82.89 651.17,82.83 C652.84,82.78 654.50,82.75 656.17,82.72 C657.83,82.69 659.50,82.68 661.16,82.68 C662.83,82.67 664.49,82.68 666.16,82.70 C667.82,82.72 669.49,82.75 671.15,82.79 C672.81,82.83 674.48,82.89 676.14,82.95 C677.80,83.01 679.47,83.08 681.13,83.16 C682.79,83.24 684.45,83.33 686.11,83.42 C687.78,83.52 689.44,83.63 691.10,83.74 C692.76,83.85 694.42,83.98 696.08,84.11 C697.75,84.23 699.41,84.37 701.07,84.52 C702.73,84.66 704.39,84.81 706.05,84.97 C707.71,85.12 709.37,85.29 711.03,85.46 C712.69,85.62 714.35,85.80 716.01,85.98 C717.67,86.16 719.33,86.34 720.99,86.53 C722.65,86.72 724.30,86.92 725.96,87.12 C727.62,87.31 729.28,87.52 730.94,87.72 C732.60,87.93 734.26,88.14 735.92,88.35 C737.58,88.56 739.23,88.78 740.89,89.00 C742.55,89.21 744.21,89.43 745.87,89.65 C747.53,89.88 749.19,90.10 750.84,90.32 C752.50,90.55 754.16,90.77 755.82,91.00 C757.48,91.23 759.14,91.45 760.79,91.68 C762.45,91.91 764.11,92.14 765.77,92.36 C767.43,92.59 769.09,92.81 770.75,93.04 C772.40,93.26 774.06,93.49 775.72,93.71 C777.38,93.93 779.04,94.15 780.70,94.37 C782.36,94.59 784.01,94.81 785.67,95.02 C787.33,95.23 788.99,95.45 790.65,95.65 C792.31,95.86 793.97,96.06 795.63,96.26 C797.29,96.46 798.95,96.66 800.61,96.85 C802.27,97.04 803.93,97.23 805.59,97.41 C807.25,97.60 808.91,97.77 810.57,97.95 C812.23,98.12 813.89,98.28 815.55,98.44 C817.21,98.60 818.87,98.76 820.53,98.90 C822.19,99.05 823.85,99.19 825.51,99.32 C827.18,99.46 829.67,99.64 830.50,99.70" fill="none" stroke="#00ff00" stroke-width="3.4" stroke-linejoin="round"/>
<g clip-path="url(#fc)" fill="none" stroke="#aa0000" stroke-width="2.45">
<path d="M350.20,39.50 C350.87,39.99 352.87,41.47 354.20,42.46 C355.54,43.45 356.87,44.45 358.21,45.45 C359.55,46.45 360.89,47.46 362.22,48.47 C363.56,49.49 364.90,50.51 366.23,51.54 C367.57,52.56 368.90,53.60 370.23,54.64 C371.56,55.68 372.89,56.73 374.21,57.78 C375.54,58.84 376.86,59.90 378.18,60.97 C379.49,62.04 380.80,63.12 382.11,64.20 C383.42,65.29 384.72,66.38 386.01,67.48 C387.31,68.58 388.60,69.69 389.88,70.81 C391.16,71.93 392.43,73.05 393.70,74.19 C394.96,75.33 396.22,76.47 397.47,77.62 C398.71,78.78 399.95,79.94 401.18,81.11 C402.41,82.29 403.63,83.47 404.83,84.66 C406.04,85.85 407.23,87.05 408.42,88.26 C409.60,89.48 410.77,90.70 411.93,91.93 C413.09,93.16 414.23,94.41 415.36,95.66 C416.49,96.92 417.61,98.18 418.71,99.46 C419.81,100.73 420.90,102.02 421.97,103.32 C423.04,104.62 424.09,105.93 425.13,107.25 C426.17,108.57 427.19,109.90 428.20,111.24 C429.21,112.58 430.20,113.93 431.17,115.30 C432.15,116.66 433.11,118.03 434.05,119.41 C434.99,120.80 435.91,122.19 436.82,123.60 C437.73,125.00 438.62,126.41 439.49,127.84 C440.36,129.26 441.22,130.69 442.05,132.14 C442.89,133.58 443.71,135.03 444.51,136.50 C445.31,137.96 446.09,139.43 446.85,140.91 C447.61,142.40 448.36,143.89 449.08,145.39 C449.80,146.89 450.51,148.40 451.20,149.91 C451.88,151.43 452.55,152.96 453.20,154.50 C453.85,156.03 454.48,157.57 455.10,159.13 C455.72,160.68 456.31,162.24 456.89,163.80 C457.48,165.37 458.04,166.94 458.59,168.52 C459.14,170.10 459.67,171.69 460.18,173.29 C460.70,174.88 461.20,176.48 461.69,178.09 C462.17,179.70 462.65,181.31 463.10,182.93 C463.56,184.54 464.00,186.17 464.43,187.80 C464.86,189.43 465.28,191.06 465.68,192.70 C466.08,194.34 466.47,195.98 466.85,197.63 C467.23,199.28 467.59,200.93 467.95,202.59 C468.30,204.24 468.64,205.90 468.97,207.57 C469.30,209.23 469.62,210.90 469.93,212.56 C470.24,214.23 470.54,215.91 470.83,217.58 C471.12,219.26 471.40,220.93 471.67,222.61 C471.94,224.29 472.20,225.97 472.45,227.65 C472.70,229.34 472.94,231.02 473.18,232.71 C473.41,234.39 473.64,236.08 473.86,237.76 C474.08,239.45 474.29,241.14 474.50,242.82 C474.71,244.51 474.90,246.20 475.10,247.89 C475.29,249.58 475.48,251.26 475.66,252.95 C475.84,254.64 476.02,256.32 476.19,258.01 C476.36,259.69 476.52,261.38 476.68,263.06 C476.84,264.74 477.00,266.43 477.15,268.11 C477.30,269.79 477.45,271.47 477.59,273.16 C477.73,274.84 477.87,276.52 478.00,278.20 C478.14,279.88 478.27,281.56 478.39,283.24 C478.52,284.92 478.64,286.60 478.76,288.28 C478.88,289.96 478.99,291.64 479.11,293.31 C479.22,294.99 479.33,296.67 479.44,298.35 C479.54,300.03 479.65,301.70 479.75,303.38 C479.85,305.06 479.95,306.74 480.05,308.41 C480.14,310.09 480.24,311.77 480.33,313.44 C480.43,315.12 480.52,316.80 480.61,318.47 C480.70,320.15 480.78,321.83 480.87,323.50 C480.96,325.18 481.04,326.86 481.13,328.53 C481.21,330.21 481.30,331.88 481.38,333.56 C481.46,335.24 481.55,336.91 481.63,338.59 C481.71,340.27 481.79,341.94 481.88,343.62 C481.96,345.30 482.04,346.98 482.12,348.65 C482.21,350.33 482.29,352.01 482.37,353.69 C482.46,355.37 482.54,357.04 482.62,358.72 C482.71,360.40 482.80,362.08 482.88,363.76 C482.97,365.44 483.06,367.12 483.15,368.80 C483.24,370.48 483.33,372.16 483.42,373.84 C483.52,375.52 483.61,377.20 483.71,378.89 C483.81,380.57 483.91,382.25 484.01,383.93 C484.11,385.62 484.21,387.30 484.32,388.99 C484.43,390.67 484.54,392.35 484.65,394.04 C484.76,395.73 484.94,398.26 485.00,399.10" stroke-dasharray="9.1 4.4" stroke-dashoffset="2.9"/>
<path d="M620.60,38.50 C619.96,39.02 618.05,40.58 616.77,41.63 C615.50,42.68 614.21,43.73 612.93,44.78 C611.64,45.83 610.36,46.89 609.07,47.95 C607.78,49.01 606.49,50.08 605.20,51.15 C603.91,52.21 602.62,53.29 601.33,54.37 C600.04,55.44 598.75,56.53 597.47,57.62 C596.18,58.70 594.89,59.80 593.61,60.90 C592.33,62.00 591.05,63.10 589.78,64.21 C588.50,65.32 587.23,66.44 585.96,67.56 C584.70,68.69 583.44,69.82 582.18,70.96 C580.93,72.09 579.68,73.24 578.44,74.39 C577.20,75.54 575.96,76.70 574.74,77.87 C573.51,79.04 572.29,80.21 571.08,81.39 C569.87,82.58 568.67,83.77 567.48,84.97 C566.30,86.17 565.12,87.38 563.95,88.60 C562.78,89.82 561.63,91.05 560.48,92.29 C559.34,93.53 558.21,94.77 557.09,96.03 C555.97,97.29 554.87,98.56 553.78,99.84 C552.69,101.12 551.61,102.40 550.56,103.70 C549.50,105.01 548.45,106.32 547.43,107.64 C546.40,108.96 545.39,110.30 544.40,111.64 C543.40,112.99 542.43,114.35 541.47,115.72 C540.52,117.09 539.58,118.47 538.66,119.87 C537.74,121.26 536.85,122.67 535.97,124.09 C535.09,125.51 534.23,126.95 533.39,128.39 C532.55,129.83 531.73,131.29 530.93,132.75 C530.12,134.22 529.34,135.69 528.58,137.18 C527.82,138.67 527.07,140.17 526.35,141.67 C525.62,143.18 524.92,144.70 524.23,146.22 C523.55,147.75 522.88,149.29 522.24,150.83 C521.59,152.37 520.96,153.93 520.34,155.49 C519.73,157.05 519.14,158.61 518.56,160.19 C517.98,161.76 517.41,163.34 516.87,164.93 C516.32,166.51 515.78,168.10 515.26,169.70 C514.74,171.30 514.24,172.90 513.74,174.50 C513.25,176.10 512.77,177.71 512.30,179.32 C511.83,180.93 511.37,182.54 510.93,184.16 C510.48,185.78 510.05,187.39 509.63,189.01 C509.20,190.63 508.79,192.26 508.39,193.88 C507.99,195.51 507.59,197.14 507.21,198.77 C506.83,200.40 506.46,202.03 506.10,203.67 C505.74,205.30 505.39,206.94 505.05,208.58 C504.71,210.22 504.38,211.86 504.06,213.50 C503.73,215.15 503.42,216.79 503.12,218.44 C502.81,220.09 502.52,221.74 502.23,223.39 C501.94,225.04 501.66,226.69 501.39,228.35 C501.12,230.00 500.86,231.66 500.61,233.32 C500.35,234.97 500.11,236.63 499.87,238.30 C499.63,239.96 499.40,241.62 499.17,243.28 C498.95,244.95 498.73,246.61 498.52,248.28 C498.31,249.95 498.10,251.62 497.90,253.29 C497.71,254.96 497.51,256.63 497.33,258.30 C497.14,259.97 496.96,261.64 496.79,263.32 C496.61,264.99 496.44,266.67 496.28,268.34 C496.12,270.02 495.96,271.69 495.81,273.37 C495.65,275.05 495.50,276.73 495.36,278.41 C495.21,280.09 495.07,281.77 494.94,283.45 C494.80,285.13 494.67,286.81 494.54,288.49 C494.42,290.17 494.29,291.85 494.17,293.54 C494.05,295.22 493.93,296.90 493.82,298.58 C493.71,300.27 493.60,301.95 493.49,303.63 C493.38,305.32 493.27,307.00 493.17,308.68 C493.07,310.37 492.96,312.05 492.87,313.74 C492.77,315.42 492.67,317.10 492.57,318.79 C492.48,320.47 492.38,322.16 492.29,323.84 C492.20,325.52 492.11,327.21 492.01,328.89 C491.92,330.57 491.83,332.25 491.74,333.94 C491.65,335.62 491.57,337.30 491.48,338.98 C491.39,340.66 491.30,342.34 491.21,344.02 C491.12,345.70 491.03,347.38 490.94,349.06 C490.85,350.74 490.76,352.42 490.67,354.10 C490.58,355.77 490.49,357.45 490.39,359.12 C490.30,360.80 490.20,362.47 490.11,364.15 C490.01,365.82 489.91,367.49 489.81,369.16 C489.71,370.84 489.61,372.51 489.50,374.17 C489.40,375.84 489.29,377.51 489.18,379.18 C489.07,380.84 488.96,382.51 488.84,384.17 C488.72,385.83 488.60,387.50 488.48,389.16 C488.36,390.82 488.23,392.48 488.10,394.13 C487.97,395.79 487.77,398.27 487.70,399.10" stroke-dasharray="9.1 4.4" stroke-dashoffset="4.3"/>
</g>
<path d="M146.50,463.40 V40.50 H830.90 M160.25,40.50 v3.20 M190.10,40.50 v3.20 M219.95,40.50 v3.20 M249.80,40.50 v5.40 M279.65,40.50 v3.20 M309.50,40.50 v3.20 M339.35,40.50 v3.20 M369.20,40.50 v5.40 M399.05,40.50 v3.20 M428.90,40.50 v3.20 M458.75,40.50 v3.20 M488.60,40.50 v5.40 M518.45,40.50 v3.20 M548.30,40.50 v3.20 M578.15,40.50 v3.20 M608.00,40.50 v5.40 M637.85,40.50 v3.20 M667.70,40.50 v3.20 M697.55,40.50 v3.20 M727.40,40.50 v5.40 M757.25,40.50 v3.20 M787.10,40.50 v3.20 M816.95,40.50 v3.20 M830.90,463.40 h-5.40 M146.50,399.75 h5.40 M830.90,399.75 h-5.40 M146.50,362.51 h2.40 M830.90,362.51 h-2.40 M146.50,336.09 h2.40 M830.90,336.09 h-2.40 M146.50,315.60 h5.40 M830.90,315.60 h-5.40 M146.50,298.86 h2.40 M830.90,298.86 h-2.40 M146.50,284.70 h2.40 M830.90,284.70 h-2.40 M146.50,272.44 h2.40 M830.90,272.44 h-2.40 M146.50,261.63 h2.40 M830.90,261.63 h-2.40 M146.50,251.95 h5.40 M830.90,251.95 h-5.40 M146.50,188.30 h5.40 M830.90,188.30 h-5.40 M146.50,151.06 h2.40 M830.90,151.06 h-2.40 M146.50,124.64 h2.40 M830.90,124.64 h-2.40 M146.50,104.15 h5.40 M830.90,104.15 h-5.40 M146.50,87.41 h2.40 M830.90,87.41 h-2.40 M146.50,73.25 h2.40 M830.90,73.25 h-2.40 M146.50,60.99 h2.40 M830.90,60.99 h-2.40 M146.50,50.18 h2.40 M830.90,50.18 h-2.40 M146.50,40.50 h5.4 M830.90,40.50 h-5.4" fill="none" stroke="#1c1c1c" stroke-width="0.8"/>
<path d="M146.50,463.40 H830.90 M160.25,463.40 v-3.20 M190.10,463.40 v-3.20 M219.95,463.40 v-3.20 M249.80,463.40 v-5.40 M279.65,463.40 v-3.20 M309.50,463.40 v-3.20 M339.35,463.40 v-3.20 M369.20,463.40 v-5.40 M399.05,463.40 v-3.20 M428.90,463.40 v-3.20 M458.75,463.40 v-3.20 M488.60,463.40 v-5.40 M518.45,463.40 v-3.20 M548.30,463.40 v-3.20 M578.15,463.40 v-3.20 M608.00,463.40 v-5.40 M637.85,463.40 v-3.20 M667.70,463.40 v-3.20 M697.55,463.40 v-3.20 M727.40,463.40 v-5.40 M757.25,463.40 v-3.20 M787.10,463.40 v-3.20 M816.95,463.40 v-3.20" fill="none" stroke="#4d4d4d" stroke-width="0.75"/>
<path d="M830.90,463.40 V40.50" fill="none" stroke="#777" stroke-width="0.8"/>
<text transform="translate(221.20 494.70) scale(0.8070 1.0000)" x="-1.31" y="0" font-family='"Liberation Serif",serif' font-size="35.30" fill="#000">-</text>
<text transform="translate(239.70 498.60) scale(0.9733 1.0000)" x="-1.34" y="0" font-family='"Liberation Serif",serif' font-size="35.30" fill="#000">0.4</text>
<text transform="translate(340.30 494.70) scale(0.8070 1.0000)" x="-1.31" y="0" font-family='"Liberation Serif",serif' font-size="35.30" fill="#000">-</text>
<text transform="translate(359.70 498.60) scale(0.9649 1.0000)" x="-1.34" y="0" font-family='"Liberation Serif",serif' font-size="35.30" fill="#000">0.2</text>
<text transform="translate(467.30 498.60) scale(1.0112 1.0000)" x="-1.34" y="0" font-family='"Liberation Serif",serif' font-size="35.30" fill="#000">0.0</text>
<text transform="translate(587.10 498.60) scale(0.9698 1.0000)" x="-1.34" y="0" font-family='"Liberation Serif",serif' font-size="35.30" fill="#000">0.2</text>
<text transform="translate(706.00 498.60) scale(0.9851 1.0000)" x="-1.34" y="0" font-family='"Liberation Serif",serif' font-size="35.30" fill="#000">0.4</text>
<text transform="translate(72.12 116.15) scale(1.0160 1.0000)" x="-2.05" y="0" font-family='"Liberation Serif",serif' font-size="35.30" fill="#000">5000</text>
<text transform="translate(71.61 200.30) scale(1.0160 1.0000)" x="-1.55" y="0" font-family='"Liberation Serif",serif' font-size="35.30" fill="#000">2000</text>
<text transform="translate(73.19 263.95) scale(1.0160 1.0000)" x="-3.10" y="0" font-family='"Liberation Serif",serif' font-size="35.30" fill="#000">1000</text>
<text transform="translate(90.05 327.60) scale(1.0160 1.0000)" x="-2.05" y="0" font-family='"Liberation Serif",serif' font-size="35.30" fill="#000">500</text>
<text transform="translate(89.54 411.75) scale(1.0160 1.0000)" x="-1.55" y="0" font-family='"Liberation Serif",serif' font-size="35.30" fill="#000">200</text>
<text transform="translate(91.12 475.40) scale(1.0160 1.0000)" x="-3.10" y="0" font-family='"Liberation Serif",serif' font-size="35.30" fill="#000">100</text>
<text transform="translate(43.10 51.90) scale(0.7886 1.0000)" x="-3.10" y="0" font-family='"Liberation Serif",serif' font-size="35.30" fill="#000">1</text>
<text transform="translate(68.00 52.80) scale(1.0013 1.0000)" x="-0.26" y="0" font-family='"Liberation Sans",sans-serif' font-size="23.40" fill="#000">x</text>
<text transform="translate(94.40 51.90) scale(0.7725 1.0000)" x="-3.10" y="0" font-family='"Liberation Serif",serif' font-size="35.30" fill="#000">1</text>
<text transform="translate(109.30 51.90) scale(1.0427 1.0000)" x="-1.34" y="0" font-family='"Liberation Serif",serif' font-size="35.30" fill="#000">0</text>
<text transform="translate(127.80 38.60) scale(0.9707 1.0000)" x="-0.48" y="0" font-family='"Liberation Serif",serif' font-size="24.60" fill="#000">4</text>
<text transform="translate(270.60 69.80) scale(0.9836 1.0000)" x="-0.16" y="0" font-family='"Liberation Sans",sans-serif' font-weight="bold" font-size="18.20" fill="#800000">XENON</text>
<path d="M346.9,56.9 H344.5 L340.4,59.5 V62.1 L343.8,60.0 V69.8 H346.9 Z" fill="#800000"/>
<text transform="translate(349.40 69.80) scale(0.9890 1.0000)" x="-0.20" y="0" font-family='"Liberation Sans",sans-serif' font-weight="bold" font-size="18.20" fill="#800000">T</text>
<text transform="translate(151.90 166.80) scale(1.0051 1.0000)" x="-1.22" y="0" font-family='"Liberation Sans",sans-serif' font-weight="bold" font-size="18.20" fill="#ff0000">LUX</text>
<text transform="translate(152.30 196.40) scale(0.9934 1.0000)" x="-1.22" y="0" font-family='"Liberation Sans",sans-serif' font-weight="bold" font-size="18.20" fill="#0000ff">IHD (JJ)</text>
<text transform="translate(266.90 24.80) scale(1.0136 1.0000)" x="0.42" y="0" font-family='"Liberation Serif",serif' font-style="italic" font-size="36.00" fill="#000">M</text>
<text transform="translate(298.30 29.80) scale(1.0804 1.0000)" x="0.19" y="0" font-family='"Liberation Serif",serif' font-style="italic" font-size="25.30" fill="#000">N</text>
<path d="M331.5,13.1h21.7 M331.5,19.7h21.7 M553.8,13.1h21.8 M553.8,19.7h21.8" stroke="#000" stroke-width="1.4" fill="none"/>
<text transform="translate(364.90 25.40) scale(0.9399 1.0000)" x="-2.09" y="0" font-family='"Liberation Serif",serif' font-size="36.00" fill="#000">500</text>
<text transform="translate(413.70 25.20) scale(0.9489 1.0000)" x="-1.48" y="0" font-family='"Liberation Serif",serif' font-size="36.00" fill="#000">G</text>
<text transform="translate(437.50 25.00) scale(1.0480 1.0000)" x="-1.29" y="0" font-family='"Liberation Serif",serif' font-size="33.00" fill="#000">e</text>
<text transform="translate(451.00 24.80) scale(0.9250 1.0000)" x="-0.40" y="0" font-family='"Liberation Serif",serif' font-size="36.00" fill="#000">V</text>
<text transform="translate(477.00 25.60) scale(1.0072 1.2500)" x="-1.37" y="0" font-family='"Liberation Serif",serif' font-size="36.00" fill="#000">,</text>
<text transform="translate(495.30 24.80) scale(1.0136 1.0000)" x="0.42" y="0" font-family='"Liberation Serif",serif' font-style="italic" font-size="36.00" fill="#000">M</text>
<text transform="translate(527.00 30.20) scale(1.1648 1.0000)" x="-0.30" y="0" font-family='"Liberation Serif",serif' font-style="italic" font-size="26.00" fill="#000">S</text>
<text transform="translate(588.90 24.80) scale(0.8521 1.0000)" x="-3.16" y="0" font-family='"Liberation Serif",serif' font-size="36.00" fill="#000">1</text>
<text transform="translate(601.90 24.80) scale(0.9739 1.0000)" x="-0.65" y="0" font-family='"Liberation Serif",serif' font-size="36.00" fill="#000">T</text>
<text transform="translate(623.50 25.00) scale(1.0071 1.0000)" x="-1.29" y="0" font-family='"Liberation Serif",serif' font-size="33.00" fill="#000">e</text>
<text transform="translate(636.50 24.80) scale(0.9488 1.0000)" x="-0.40" y="0" font-family='"Liberation Serif",serif' font-size="36.00" fill="#000">V</text>
<path d="M502.7,519.4 C501.3,523 499.6,526.3 497.2,529.3 C494,533.2 490.5,537.2 486,537.2 C480.5,537.2 477.6,533 477.6,528.2 C477.6,522 482.5,517.2 488.2,517.2 C491.8,517.2 494.2,519.6 495.3,524 C496.3,528.5 497.2,533.2 499.4,536.2 C500.6,537.6 502.1,535.5 502.7,533.2" fill="none" stroke="#000" stroke-width="1.7" stroke-linecap="round"/>
<path d="M492.6,518.6 C494.2,520 495.0,522 495.6,525 C496.4,529 497.2,532.8 498.9,535.6" fill="none" stroke="#000" stroke-width="2.7" stroke-linecap="round"/>
<path d="M486,516.6 C480,517.5 475.7,522.5 475.7,528.6 C475.7,533.5 478.8,538 484.5,538 L485.5,536.4 C481.8,536 480,533 480,529 C480,523.5 482.5,519.5 486.8,518 Z" fill="#000"/>
<path d="M11.0,283.4 C12.5,282.0 15.5,281.9 18.4,283.7 C21.5,285.6 23.6,288 23.3,290.5 C23.0,293.2 21.5,294.6 19.6,294.3 C17,293.9 15,292 12.8,291.2 C11,290.6 9.9,291.2 9.9,292.6 C9.9,294.8 12,297.5 14.8,298.6" fill="none" stroke="#000" stroke-width="1.25" stroke-linecap="round"/>
<path d="M23.0,291.6 C22.4,294 20.8,294.7 18.6,293.9 C16.5,293.2 14.5,291.8 12.5,291.1" fill="none" stroke="#000" stroke-width="2.3" stroke-linecap="round"/>
<ellipse cx="11.2" cy="283.6" rx="1.7" ry="1.45" fill="#000"/>
<ellipse cx="23.8" cy="273.3" rx="4.75" ry="5.95" transform="rotate(-8 23.8 273.3)" fill="none" stroke="#000" stroke-width="1.45"/>
<path d="M19.3,264.1 L19.35,271.5" fill="none" stroke="#000" stroke-width="1.35" stroke-linecap="round"/>
<text transform="translate(24.40 243.60) rotate(-90) scale(1.0383 1.0600)" x="-1.58" y="0" font-family='"Liberation Serif",serif' font-size="36.00" fill="#000">(</text>
<text transform="translate(24.70 229.80) rotate(-90) scale(1.1326 1.0000)" x="-1.48" y="0" font-family='"Liberation Serif",serif' font-size="36.00" fill="#000">G</text>
<text transform="translate(24.60 200.40) rotate(-90) scale(1.2609 1.0000)" x="-1.29" y="0" font-family='"Liberation Serif",serif' font-size="33.00" fill="#000">e</text>
<text transform="translate(24.40 183.60) rotate(-90) scale(1.1116 0.9500)" x="-0.40" y="0" font-family='"Liberation Serif",serif' font-size="36.00" fill="#000">V</text>
<text transform="translate(24.40 152.80) rotate(-90) scale(0.9734 1.0600)" x="-1.16" y="0" font-family='"Liberation Serif",serif' font-size="36.00" fill="#000">)</text>
</svg></body></html>
